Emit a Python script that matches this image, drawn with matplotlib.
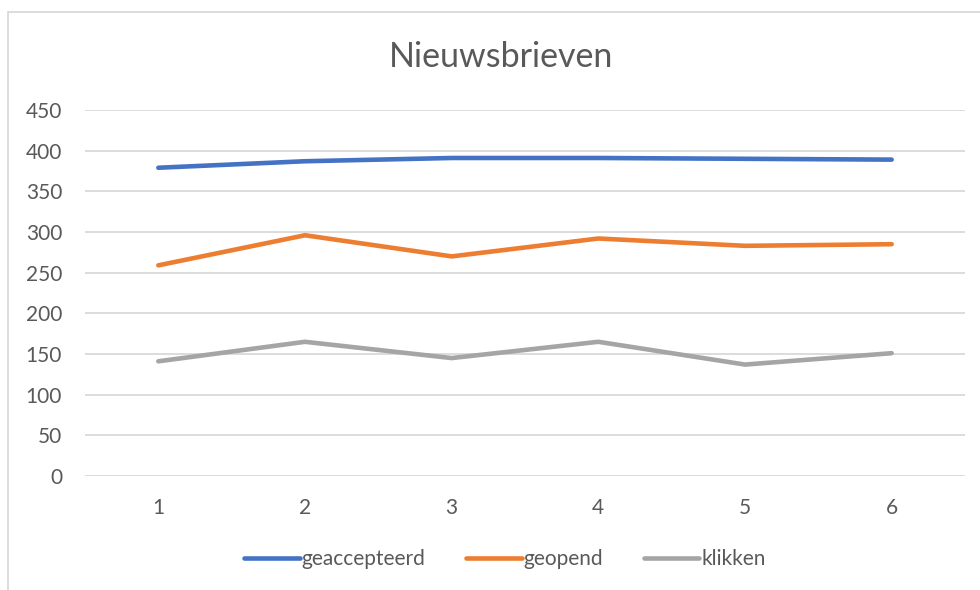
import matplotlib.pyplot as plt
import matplotlib.patches as mpatches

# Data
nummers = [1, 2, 3, 4, 5, 6]
geaccepteerd = [379, 387, 391, 391, 390, 389]
geopend = [259, 296, 270, 292, 283, 285]
klikken = [141, 165, 145, 165, 137, 151]
y_ticks = [0, 50, 100, 150, 200, 250, 300, 350, 400, 450]

TEXT_COLOR = '#595959'
GRID_COLOR = '#d9d9d9'
COLORS = ['#4472C4', '#ED7D31', '#A5A5A5']

plt.rcParams['font.family'] = ['Lato', 'DejaVu Sans']

fig = plt.figure(figsize=(9.8, 5.9), dpi=100)
ax = fig.add_axes([85 / 980, 1 - 476 / 590, 880 / 980, 366 / 590])

series = [('geaccepteerd', geaccepteerd), ('geopend', geopend), ('klikken', klikken)]
for (name, vals), col in zip(series, COLORS):
    ax.plot(range(len(nummers)), vals, color=col, lw=3.3, label=name,
            solid_capstyle='round', solid_joinstyle='round')

ax.set_xlim(-0.5, len(nummers) - 0.5)
ax.set_ylim(0, 450)
ax.set_yticks(y_ticks)
ax.set_xticks(range(len(nummers)))
ax.set_xticklabels([str(n) for n in nummers])
ax.grid(axis='y', color=GRID_COLOR, lw=1.3)
ax.set_axisbelow(True)
for s in ax.spines.values():
    s.set_visible(False)
ax.tick_params(length=0, labelsize=15, colors=TEXT_COLOR)
ax.tick_params(axis='y', pad=16.5)
ax.tick_params(axis='x', pad=16)

# titel
fig.text(501 / 980, 1 - 57 / 590, 'Nieuwsbrieven', ha='center', va='center',
         fontsize=24.5, color=TEXT_COLOR)

# legenda
leg = fig.legend(loc='center', bbox_to_anchor=(505 / 980, 1 - 559 / 590), ncol=3,
                 frameon=False, fontsize=15, handlelength=2.65, handletextpad=0.1,
                 columnspacing=1.95, labelcolor=TEXT_COLOR)

# kader rond de grafiek
fig.patches.append(mpatches.Rectangle((8 / 980, -0.1), 1.2, 1 - 12 / 590 + 0.1,
                                      transform=fig.transFigure, fill=False,
                                      edgecolor=GRID_COLOR, lw=1.3))

plt.savefig('out.png', dpi=100, facecolor='white')
